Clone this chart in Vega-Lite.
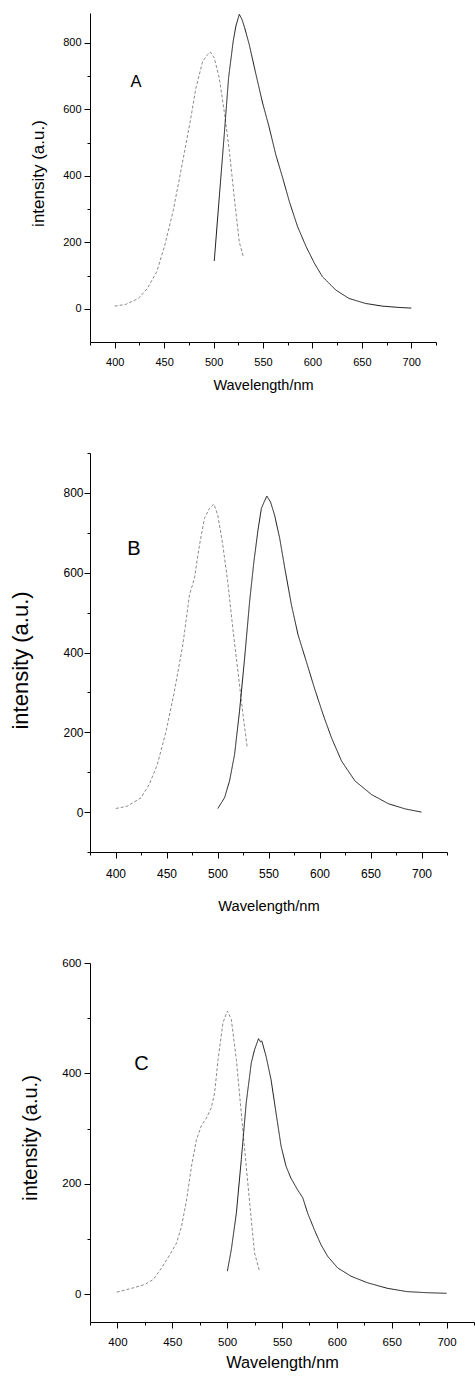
{
  "$schema": "https://vega.github.io/schema/vega-lite/v6.json",
  "padding": {"left": 9, "top": 12, "right": 0, "bottom": 0},
  "background": "white",
  "bounds": "flush",
  "spacing": 111,
  "config": {
    "view": {"stroke": null},
    "axis": {
      "grid": false,
      "domainColor": "#000",
      "domainWidth": 1,
      "tickColor": "#000",
      "tickWidth": 1,
      "labelColor": "#000",
      "titleColor": "#000",
      "labelFont": "Liberation Sans",
      "titleFont": "Liberation Sans",
      "titleFontWeight": "normal",
      "labelOverlap": false,
      "labelFlush": false
    }
  },
  "datasets": {
    "spectra": [
      {"panel": "A", "series": "excitation", "wavelength": 400, "intensity": 8},
      {"panel": "A", "series": "excitation", "wavelength": 411, "intensity": 13},
      {"panel": "A", "series": "excitation", "wavelength": 424, "intensity": 31},
      {"panel": "A", "series": "excitation", "wavelength": 433, "intensity": 61},
      {"panel": "A", "series": "excitation", "wavelength": 442.6, "intensity": 112},
      {"panel": "A", "series": "excitation", "wavelength": 450.7, "intensity": 192},
      {"panel": "A", "series": "excitation", "wavelength": 459, "intensity": 293},
      {"panel": "A", "series": "excitation", "wavelength": 465.5, "intensity": 393},
      {"panel": "A", "series": "excitation", "wavelength": 472, "intensity": 494},
      {"panel": "A", "series": "excitation", "wavelength": 477, "intensity": 574},
      {"panel": "A", "series": "excitation", "wavelength": 482, "intensity": 662},
      {"panel": "A", "series": "excitation", "wavelength": 489, "intensity": 745},
      {"panel": "A", "series": "excitation", "wavelength": 494, "intensity": 765},
      {"panel": "A", "series": "excitation", "wavelength": 496.6, "intensity": 773},
      {"panel": "A", "series": "excitation", "wavelength": 500.7, "intensity": 755},
      {"panel": "A", "series": "excitation", "wavelength": 505.7, "intensity": 695},
      {"panel": "A", "series": "excitation", "wavelength": 510.8, "intensity": 594},
      {"panel": "A", "series": "excitation", "wavelength": 516, "intensity": 474},
      {"panel": "A", "series": "excitation", "wavelength": 521, "intensity": 333},
      {"panel": "A", "series": "excitation", "wavelength": 526, "intensity": 201},
      {"panel": "A", "series": "excitation", "wavelength": 530, "intensity": 157},
      {"panel": "A", "series": "emission", "wavelength": 500.7, "intensity": 144},
      {"panel": "A", "series": "emission", "wavelength": 505.7, "intensity": 333},
      {"panel": "A", "series": "emission", "wavelength": 510.8, "intensity": 524},
      {"panel": "A", "series": "emission", "wavelength": 515.2, "intensity": 695},
      {"panel": "A", "series": "emission", "wavelength": 519.9, "intensity": 806},
      {"panel": "A", "series": "emission", "wavelength": 522.6, "intensity": 851},
      {"panel": "A", "series": "emission", "wavelength": 526, "intensity": 886},
      {"panel": "A", "series": "emission", "wavelength": 528.7, "intensity": 871},
      {"panel": "A", "series": "emission", "wavelength": 531.4, "intensity": 846},
      {"panel": "A", "series": "emission", "wavelength": 536, "intensity": 796},
      {"panel": "A", "series": "emission", "wavelength": 542.9, "intensity": 705},
      {"panel": "A", "series": "emission", "wavelength": 549.6, "intensity": 619},
      {"panel": "A", "series": "emission", "wavelength": 556, "intensity": 549},
      {"panel": "A", "series": "emission", "wavelength": 563, "intensity": 463},
      {"panel": "A", "series": "emission", "wavelength": 570, "intensity": 393},
      {"panel": "A", "series": "emission", "wavelength": 576.7, "intensity": 322},
      {"panel": "A", "series": "emission", "wavelength": 585, "intensity": 247},
      {"panel": "A", "series": "emission", "wavelength": 593.6, "intensity": 187},
      {"panel": "A", "series": "emission", "wavelength": 602, "intensity": 137},
      {"panel": "A", "series": "emission", "wavelength": 610, "intensity": 97},
      {"panel": "A", "series": "emission", "wavelength": 623.8, "intensity": 56},
      {"panel": "A", "series": "emission", "wavelength": 637, "intensity": 31},
      {"panel": "A", "series": "emission", "wavelength": 653.7, "intensity": 16},
      {"panel": "A", "series": "emission", "wavelength": 670.6, "intensity": 8},
      {"panel": "A", "series": "emission", "wavelength": 687.5, "intensity": 4},
      {"panel": "A", "series": "emission", "wavelength": 700, "intensity": 2},

      {"panel": "B", "series": "excitation", "wavelength": 400.3, "intensity": 9},
      {"panel": "B", "series": "excitation", "wavelength": 411.8, "intensity": 15},
      {"panel": "B", "series": "excitation", "wavelength": 425, "intensity": 36},
      {"panel": "B", "series": "excitation", "wavelength": 433, "intensity": 69},
      {"panel": "B", "series": "excitation", "wavelength": 441, "intensity": 119},
      {"panel": "B", "series": "excitation", "wavelength": 449.5, "intensity": 202},
      {"panel": "B", "series": "excitation", "wavelength": 457.7, "intensity": 302},
      {"panel": "B", "series": "excitation", "wavelength": 466, "intensity": 419},
      {"panel": "B", "series": "excitation", "wavelength": 472.5, "intensity": 544},
      {"panel": "B", "series": "excitation", "wavelength": 477.4, "intensity": 586},
      {"panel": "B", "series": "excitation", "wavelength": 482.3, "intensity": 669},
      {"panel": "B", "series": "excitation", "wavelength": 487.2, "intensity": 736},
      {"panel": "B", "series": "excitation", "wavelength": 492, "intensity": 761},
      {"panel": "B", "series": "excitation", "wavelength": 496.4, "intensity": 772},
      {"panel": "B", "series": "excitation", "wavelength": 500.3, "intensity": 744},
      {"panel": "B", "series": "excitation", "wavelength": 505.2, "intensity": 669},
      {"panel": "B", "series": "excitation", "wavelength": 510, "intensity": 578},
      {"panel": "B", "series": "excitation", "wavelength": 515, "intensity": 461},
      {"panel": "B", "series": "excitation", "wavelength": 520, "intensity": 353},
      {"panel": "B", "series": "excitation", "wavelength": 525, "intensity": 244},
      {"panel": "B", "series": "excitation", "wavelength": 529.2, "intensity": 161},
      {"panel": "B", "series": "emission", "wavelength": 500.3, "intensity": 9},
      {"panel": "B", "series": "emission", "wavelength": 506.9, "intensity": 36},
      {"panel": "B", "series": "emission", "wavelength": 511.8, "intensity": 78},
      {"panel": "B", "series": "emission", "wavelength": 516.7, "intensity": 144},
      {"panel": "B", "series": "emission", "wavelength": 521.6, "intensity": 253},
      {"panel": "B", "series": "emission", "wavelength": 526.6, "intensity": 386},
      {"panel": "B", "series": "emission", "wavelength": 531.5, "intensity": 528},
      {"panel": "B", "series": "emission", "wavelength": 535.7, "intensity": 628},
      {"panel": "B", "series": "emission", "wavelength": 539.7, "intensity": 707},
      {"panel": "B", "series": "emission", "wavelength": 543, "intensity": 761},
      {"panel": "B", "series": "emission", "wavelength": 546, "intensity": 779},
      {"panel": "B", "series": "emission", "wavelength": 548.4, "intensity": 792},
      {"panel": "B", "series": "emission", "wavelength": 552, "intensity": 777},
      {"panel": "B", "series": "emission", "wavelength": 556, "intensity": 744},
      {"panel": "B", "series": "emission", "wavelength": 561, "intensity": 686},
      {"panel": "B", "series": "emission", "wavelength": 566, "intensity": 611},
      {"panel": "B", "series": "emission", "wavelength": 572.5, "intensity": 519},
      {"panel": "B", "series": "emission", "wavelength": 579, "intensity": 444},
      {"panel": "B", "series": "emission", "wavelength": 587, "intensity": 378},
      {"panel": "B", "series": "emission", "wavelength": 595, "intensity": 311},
      {"panel": "B", "series": "emission", "wavelength": 603.6, "intensity": 244},
      {"panel": "B", "series": "emission", "wavelength": 611.8, "intensity": 186},
      {"panel": "B", "series": "emission", "wavelength": 621.6, "intensity": 128},
      {"panel": "B", "series": "emission", "wavelength": 634.8, "intensity": 78},
      {"panel": "B", "series": "emission", "wavelength": 651, "intensity": 44},
      {"panel": "B", "series": "emission", "wavelength": 667.5, "intensity": 21},
      {"panel": "B", "series": "emission", "wavelength": 684, "intensity": 8},
      {"panel": "B", "series": "emission", "wavelength": 700, "intensity": 0},

      {"panel": "C", "series": "excitation", "wavelength": 399.4, "intensity": 4},
      {"panel": "C", "series": "excitation", "wavelength": 413, "intensity": 11},
      {"panel": "C", "series": "excitation", "wavelength": 425, "intensity": 18},
      {"panel": "C", "series": "excitation", "wavelength": 432.7, "intensity": 27},
      {"panel": "C", "series": "excitation", "wavelength": 440.3, "intensity": 48},
      {"panel": "C", "series": "excitation", "wavelength": 447.8, "intensity": 72},
      {"panel": "C", "series": "excitation", "wavelength": 453.9, "intensity": 93},
      {"panel": "C", "series": "excitation", "wavelength": 458.4, "intensity": 123},
      {"panel": "C", "series": "excitation", "wavelength": 463, "intensity": 171},
      {"panel": "C", "series": "excitation", "wavelength": 467.5, "intensity": 232},
      {"panel": "C", "series": "excitation", "wavelength": 472, "intensity": 280},
      {"panel": "C", "series": "excitation", "wavelength": 476.6, "intensity": 306},
      {"panel": "C", "series": "excitation", "wavelength": 481, "intensity": 319},
      {"panel": "C", "series": "excitation", "wavelength": 485.6, "intensity": 338},
      {"panel": "C", "series": "excitation", "wavelength": 488.6, "intensity": 365},
      {"panel": "C", "series": "excitation", "wavelength": 491.7, "intensity": 425},
      {"panel": "C", "series": "excitation", "wavelength": 496.2, "intensity": 492},
      {"panel": "C", "series": "excitation", "wavelength": 500.2, "intensity": 513},
      {"panel": "C", "series": "excitation", "wavelength": 503.8, "intensity": 498},
      {"panel": "C", "series": "excitation", "wavelength": 508.4, "intensity": 425},
      {"panel": "C", "series": "excitation", "wavelength": 512.9, "intensity": 328},
      {"panel": "C", "series": "excitation", "wavelength": 517.4, "intensity": 232},
      {"panel": "C", "series": "excitation", "wavelength": 522, "intensity": 135},
      {"panel": "C", "series": "excitation", "wavelength": 525, "intensity": 75},
      {"panel": "C", "series": "excitation", "wavelength": 529.5, "intensity": 42},
      {"panel": "C", "series": "emission", "wavelength": 500.2, "intensity": 42},
      {"panel": "C", "series": "emission", "wavelength": 503.8, "intensity": 81},
      {"panel": "C", "series": "emission", "wavelength": 508.4, "intensity": 147},
      {"panel": "C", "series": "emission", "wavelength": 512.9, "intensity": 244},
      {"panel": "C", "series": "emission", "wavelength": 517.4, "intensity": 347},
      {"panel": "C", "series": "emission", "wavelength": 522, "intensity": 419},
      {"panel": "C", "series": "emission", "wavelength": 525, "intensity": 443},
      {"panel": "C", "series": "emission", "wavelength": 528.6, "intensity": 463},
      {"panel": "C", "series": "emission", "wavelength": 530.5, "intensity": 457},
      {"panel": "C", "series": "emission", "wavelength": 531.6, "intensity": 459},
      {"panel": "C", "series": "emission", "wavelength": 535.5, "intensity": 431},
      {"panel": "C", "series": "emission", "wavelength": 540, "intensity": 389},
      {"panel": "C", "series": "emission", "wavelength": 544.6, "intensity": 328},
      {"panel": "C", "series": "emission", "wavelength": 549.2, "intensity": 268},
      {"panel": "C", "series": "emission", "wavelength": 553.7, "intensity": 232},
      {"panel": "C", "series": "emission", "wavelength": 558, "intensity": 211},
      {"panel": "C", "series": "emission", "wavelength": 564, "intensity": 190},
      {"panel": "C", "series": "emission", "wavelength": 568.9, "intensity": 175},
      {"panel": "C", "series": "emission", "wavelength": 573.4, "intensity": 147},
      {"panel": "C", "series": "emission", "wavelength": 579.5, "intensity": 117},
      {"panel": "C", "series": "emission", "wavelength": 585.5, "intensity": 90},
      {"panel": "C", "series": "emission", "wavelength": 591.6, "intensity": 69},
      {"panel": "C", "series": "emission", "wavelength": 600.7, "intensity": 48},
      {"panel": "C", "series": "emission", "wavelength": 612.8, "intensity": 33},
      {"panel": "C", "series": "emission", "wavelength": 627.9, "intensity": 21},
      {"panel": "C", "series": "emission", "wavelength": 646, "intensity": 11},
      {"panel": "C", "series": "emission", "wavelength": 664, "intensity": 5},
      {"panel": "C", "series": "emission", "wavelength": 682.4, "intensity": 3},
      {"panel": "C", "series": "emission", "wavelength": 700, "intensity": 2}
    ],
    "labels": [
      {"panel": "A", "label": "A", "wavelength": 421.5, "intensity": 683},
      {"panel": "B", "label": "B", "wavelength": 418, "intensity": 659},
      {"panel": "C", "label": "C", "wavelength": 422, "intensity": 417}
    ]
  },
  "vconcat": [
    {
      "width": 346,
      "height": 329,
      "resolve": {"axis": {"x": "independent", "y": "independent"}},
      "layer": [
        {
          "data": {"name": "spectra"},
          "transform": [{"filter": "datum.panel === 'A'"}],
          "mark": {"type": "line", "strokeWidth": 1},
          "encoding": {
            "x": {
              "field": "wavelength", "type": "quantitative",
              "scale": {"domain": [375, 725], "nice": false, "zero": false},
              "axis": {
                "orient": "bottom",
                "values": [400, 425, 450, 475, 500, 525, 550, 575, 600, 625, 650, 675, 700],
                "labelExpr": "datum.value % 50 === 0 ? datum.label : ''",
                "labelOverlap": false,
                "tickSize": {"condition": {"test": "datum.value % 50 === 0", "value": 6}, "value": 3},
                "labelFontSize": 11,
                "labelPadding": 8,
                "title": "Wavelength/nm",
                "titleFontSize": 14.5,
                "titleBaseline": "alphabetic",
                "titleY": 47.5
              }
            },
            "y": {
              "field": "intensity", "type": "quantitative",
              "scale": {"domain": [-100, 890], "nice": false, "zero": false},
              "axis": {
                "orient": "left",
                "values": [0, 100, 200, 300, 400, 500, 600, 700, 800],
                "labelExpr": "datum.value % 200 === 0 ? datum.label : ''",
                "labelOverlap": false,
                "tickSize": {"condition": {"test": "datum.value % 200 === 0", "value": 6}, "value": 3},
                "labelFontSize": 11,
                "labelPadding": 3,
                "title": "intensity (a.u.)",
                "titleFontSize": 17,
                "titleBaseline": "alphabetic",
                "titleX": -46.6,
                "titleY": 160
              }
            },
            "color": {"field": "series", "type": "nominal", "scale": {"domain": ["excitation", "emission"], "range": ["#8a8a8a", "#1a1a1a"]}, "legend": null},
            "strokeDash": {"field": "series", "type": "nominal", "scale": {"domain": ["excitation", "emission"], "range": [[3, 2], [1, 0]]}, "legend": null}
          }
        },
        {
          "data": {"name": "labels"},
          "transform": [{"filter": "datum.panel === 'A'"}],
          "mark": {"type": "text", "font": "Liberation Sans", "fontSize": 16.5, "color": "#000", "align": "center", "baseline": "middle"},
          "encoding": {
            "x": {"field": "wavelength", "type": "quantitative",
              "axis": {"orient": "bottom", "values": [375, 725], "labels": false, "domain": false, "title": null, "tickSize": 3}},
            "y": {"field": "intensity", "type": "quantitative", "axis": null},
            "text": {"field": "label"}
          }
        }
      ]
    },
    {
      "width": 357,
      "height": 399,
      "resolve": {"axis": {"x": "independent", "y": "independent"}},
      "layer": [
        {
          "data": {"name": "spectra"},
          "transform": [{"filter": "datum.panel === 'B'"}],
          "mark": {"type": "line", "strokeWidth": 1},
          "encoding": {
            "x": {
              "field": "wavelength", "type": "quantitative",
              "scale": {"domain": [375, 725], "nice": false, "zero": false},
              "axis": {
                "orient": "bottom",
                "values": [400, 425, 450, 475, 500, 525, 550, 575, 600, 625, 650, 675, 700],
                "labelExpr": "datum.value % 50 === 0 ? datum.label : ''",
                "labelOverlap": false,
                "tickSize": {"condition": {"test": "datum.value % 50 === 0", "value": 6}, "value": 3},
                "labelFontSize": 12,
                "labelPadding": 10,
                "title": "Wavelength/nm",
                "titleFontSize": 14.7,
                "titleBaseline": "alphabetic",
                "titleY": 58.5
              }
            },
            "y": {
              "field": "intensity", "type": "quantitative",
              "scale": {"domain": [-100, 900], "nice": false, "zero": false},
              "axis": {
                "orient": "left",
                "values": [0, 100, 200, 300, 400, 500, 600, 700, 800],
                "labelExpr": "datum.value % 200 === 0 ? datum.label : ''",
                "labelOverlap": false,
                "tickSize": {"condition": {"test": "datum.value % 200 === 0", "value": 6}, "value": 3},
                "labelFontSize": 12,
                "labelPadding": 1,
                "title": "intensity (a.u.)",
                "titleFontSize": 22,
                "titleBaseline": "alphabetic",
                "titleX": -62.6,
                "titleY": 207
              }
            },
            "color": {"field": "series", "type": "nominal", "scale": {"domain": ["excitation", "emission"], "range": ["#8a8a8a", "#1a1a1a"]}, "legend": null},
            "strokeDash": {"field": "series", "type": "nominal", "scale": {"domain": ["excitation", "emission"], "range": [[3, 2], [1, 0]]}, "legend": null}
          }
        },
        {
          "data": {"name": "labels"},
          "transform": [{"filter": "datum.panel === 'B'"}],
          "mark": {"type": "text", "font": "Liberation Sans", "fontSize": 20, "color": "#000", "align": "center", "baseline": "middle"},
          "encoding": {
            "x": {"field": "wavelength", "type": "quantitative",
              "axis": {"orient": "bottom", "values": [375, 725], "labels": false, "domain": false, "title": null, "tickSize": 3}},
            "y": {"field": "intensity", "type": "quantitative",
              "axis": {"orient": "left", "values": [-100, 900], "labels": false, "domain": false, "title": null, "tickSize": 3}},
            "text": {"field": "label"}
          }
        }
      ]
    },
    {
      "width": 384,
      "height": 359,
      "resolve": {"axis": {"x": "independent", "y": "independent"}},
      "layer": [
        {
          "data": {"name": "spectra"},
          "transform": [{"filter": "datum.panel === 'C'"}],
          "mark": {"type": "line", "strokeWidth": 1},
          "encoding": {
            "x": {
              "field": "wavelength", "type": "quantitative",
              "scale": {"domain": [375, 725], "nice": false, "zero": false},
              "axis": {
                "orient": "bottom",
                "values": [400, 425, 450, 475, 500, 525, 550, 575, 600, 625, 650, 675, 700],
                "labelExpr": "datum.value % 50 === 0 ? datum.label : ''",
                "labelOverlap": false,
                "tickSize": {"condition": {"test": "datum.value % 50 === 0", "value": 6}, "value": 3},
                "labelFontSize": 11.5,
                "labelPadding": 8,
                "title": "Wavelength/nm",
                "titleFontSize": 16.3,
                "titleBaseline": "alphabetic",
                "titleY": 45
              }
            },
            "y": {
              "field": "intensity", "type": "quantitative",
              "scale": {"domain": [-50, 600], "nice": false, "zero": false},
              "axis": {
                "orient": "left",
                "values": [0, 100, 200, 300, 400, 500, 600],
                "labelExpr": "datum.value % 200 === 0 ? datum.label : ''",
                "labelOverlap": false,
                "tickSize": {"condition": {"test": "datum.value % 200 === 0", "value": 6}, "value": 3},
                "labelFontSize": 11.5,
                "labelPadding": 3,
                "title": "intensity (a.u.)",
                "titleFontSize": 20,
                "titleBaseline": "alphabetic",
                "titleX": -53.2,
                "titleY": 174.5
              }
            },
            "color": {"field": "series", "type": "nominal", "scale": {"domain": ["excitation", "emission"], "range": ["#8a8a8a", "#1a1a1a"]}, "legend": null},
            "strokeDash": {"field": "series", "type": "nominal", "scale": {"domain": ["excitation", "emission"], "range": [[3, 2], [1, 0]]}, "legend": null}
          }
        },
        {
          "data": {"name": "labels"},
          "transform": [{"filter": "datum.panel === 'C'"}],
          "mark": {"type": "text", "font": "Liberation Sans", "fontSize": 20, "color": "#000", "align": "center", "baseline": "middle"},
          "encoding": {
            "x": {"field": "wavelength", "type": "quantitative",
              "axis": {"orient": "bottom", "values": [375, 725], "labels": false, "domain": false, "title": null, "tickSize": 3}},
            "y": {"field": "intensity", "type": "quantitative", "axis": null},
            "text": {"field": "label"}
          }
        }
      ]
    }
  ]
}
